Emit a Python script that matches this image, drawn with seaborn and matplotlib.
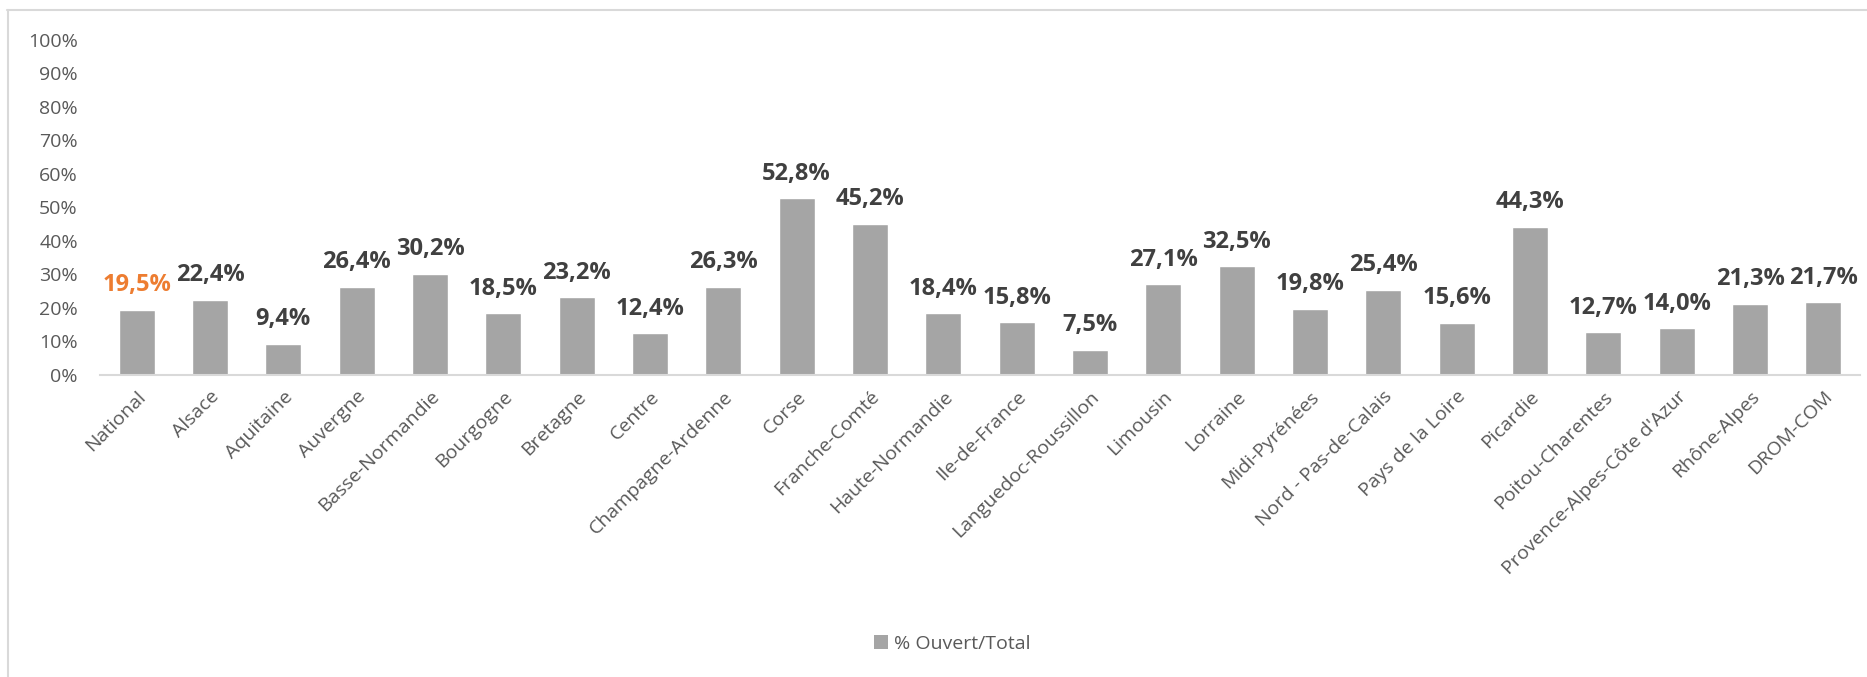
import matplotlib
matplotlib.use("Agg")
import matplotlib.pyplot as plt
from matplotlib.lines import Line2D
from matplotlib.patches import Patch
from matplotlib.ticker import FuncFormatter
import seaborn as sns
import pandas as pd

regions = [
    "National", "Alsace", "Aquitaine", "Auvergne", "Basse-Normandie",
    "Bourgogne", "Bretagne", "Centre", "Champagne-Ardenne", "Corse",
    "Franche-Comté", "Haute-Normandie", "Ile-de-France", "Languedoc-Roussillon",
    "Limousin", "Lorraine", "Midi-Pyrénées", "Nord - Pas-de-Calais",
    "Pays de la Loire", "Picardie", "Poitou-Charentes",
    "Provence-Alpes-Côte d'Azur", "Rhône-Alpes", "DROM-COM",
]
pct_ouvert = [
    19.5, 22.4, 9.4, 26.4, 30.2, 18.5, 23.2, 12.4, 26.3, 52.8,
    45.2, 18.4, 15.8, 7.5, 27.1, 32.5, 19.8, 25.4, 15.6, 44.3,
    12.7, 14.0, 21.3, 21.7,
]
series_name = "% Ouvert/Total"
y_ticks = [0, 10, 20, 30, 40, 50, 60, 70, 80, 90, 100]

df = pd.DataFrame({"region": regions, "value": pct_ouvert})

sns.set_theme(style="white")
plt.rcParams["font.family"] = ["Open Sans", "DejaVu Sans"]

W, H = 1867, 677
fig = plt.figure(figsize=(W / 100, H / 100), dpi=100)
ax = fig.add_axes([100 / W, 1 - 375 / H, 1760 / W, 335 / H])

bar_color = "#A5A5A5"
sns.barplot(data=df, x="region", y="value", color=bar_color, width=0.49,
            saturation=1, ax=ax)

ax.set_ylim(0, 100)
ax.set_xlim(-0.5, len(regions) - 0.5)
ax.set_yticks(y_ticks)
ax.yaxis.set_major_formatter(FuncFormatter(lambda v, _: f"{int(v)}%"))
ax.tick_params(axis="y", length=0, pad=16, labelsize=14, labelcolor="#595959")
ax.tick_params(axis="x", length=0, pad=9, labelsize=14, labelcolor="#595959")
ax.set_xticks(range(len(regions)))
ax.set_xticklabels(regions, rotation=45, ha="right", rotation_mode="anchor")
ax.set_xlabel("")
ax.set_ylabel("")

for side in ("top", "right", "left"):
    ax.spines[side].set_visible(False)
ax.spines["bottom"].set_color("#D9D9D9")
ax.spines["bottom"].set_linewidth(1.5)

# value labels above each bar, the national reference in orange
for i, v in enumerate(pct_ouvert):
    txt = f"{v:.1f}%".replace(".", ",")
    col = "#ED7D31" if regions[i] == "National" else "#404040"
    ax.annotate(txt, (i, v), xytext=(0, 9), textcoords="offset points",
                ha="center", va="bottom", fontsize=17, fontweight="bold",
                color=col)

# outer chart frame
fig.add_artist(Line2D([7 / W, 1], [1 - 10 / H, 1 - 10 / H],
                      transform=fig.transFigure, color="#D9D9D9", lw=1.5))
fig.add_artist(Line2D([8 / W, 8 / W], [0, 1 - 10 / H],
                      transform=fig.transFigure, color="#D9D9D9", lw=1.5))

handle = Patch(facecolor=bar_color, edgecolor="none")
fig.legend([handle], [series_name], loc="center",
           bbox_to_anchor=(952 / W, 1 - 644 / H), frameon=False,
           fontsize=14, labelcolor="#595959", handlelength=0.75,
           handleheight=0.75, handletextpad=0.3)

fig.savefig("out.png", dpi=100, facecolor="white")
